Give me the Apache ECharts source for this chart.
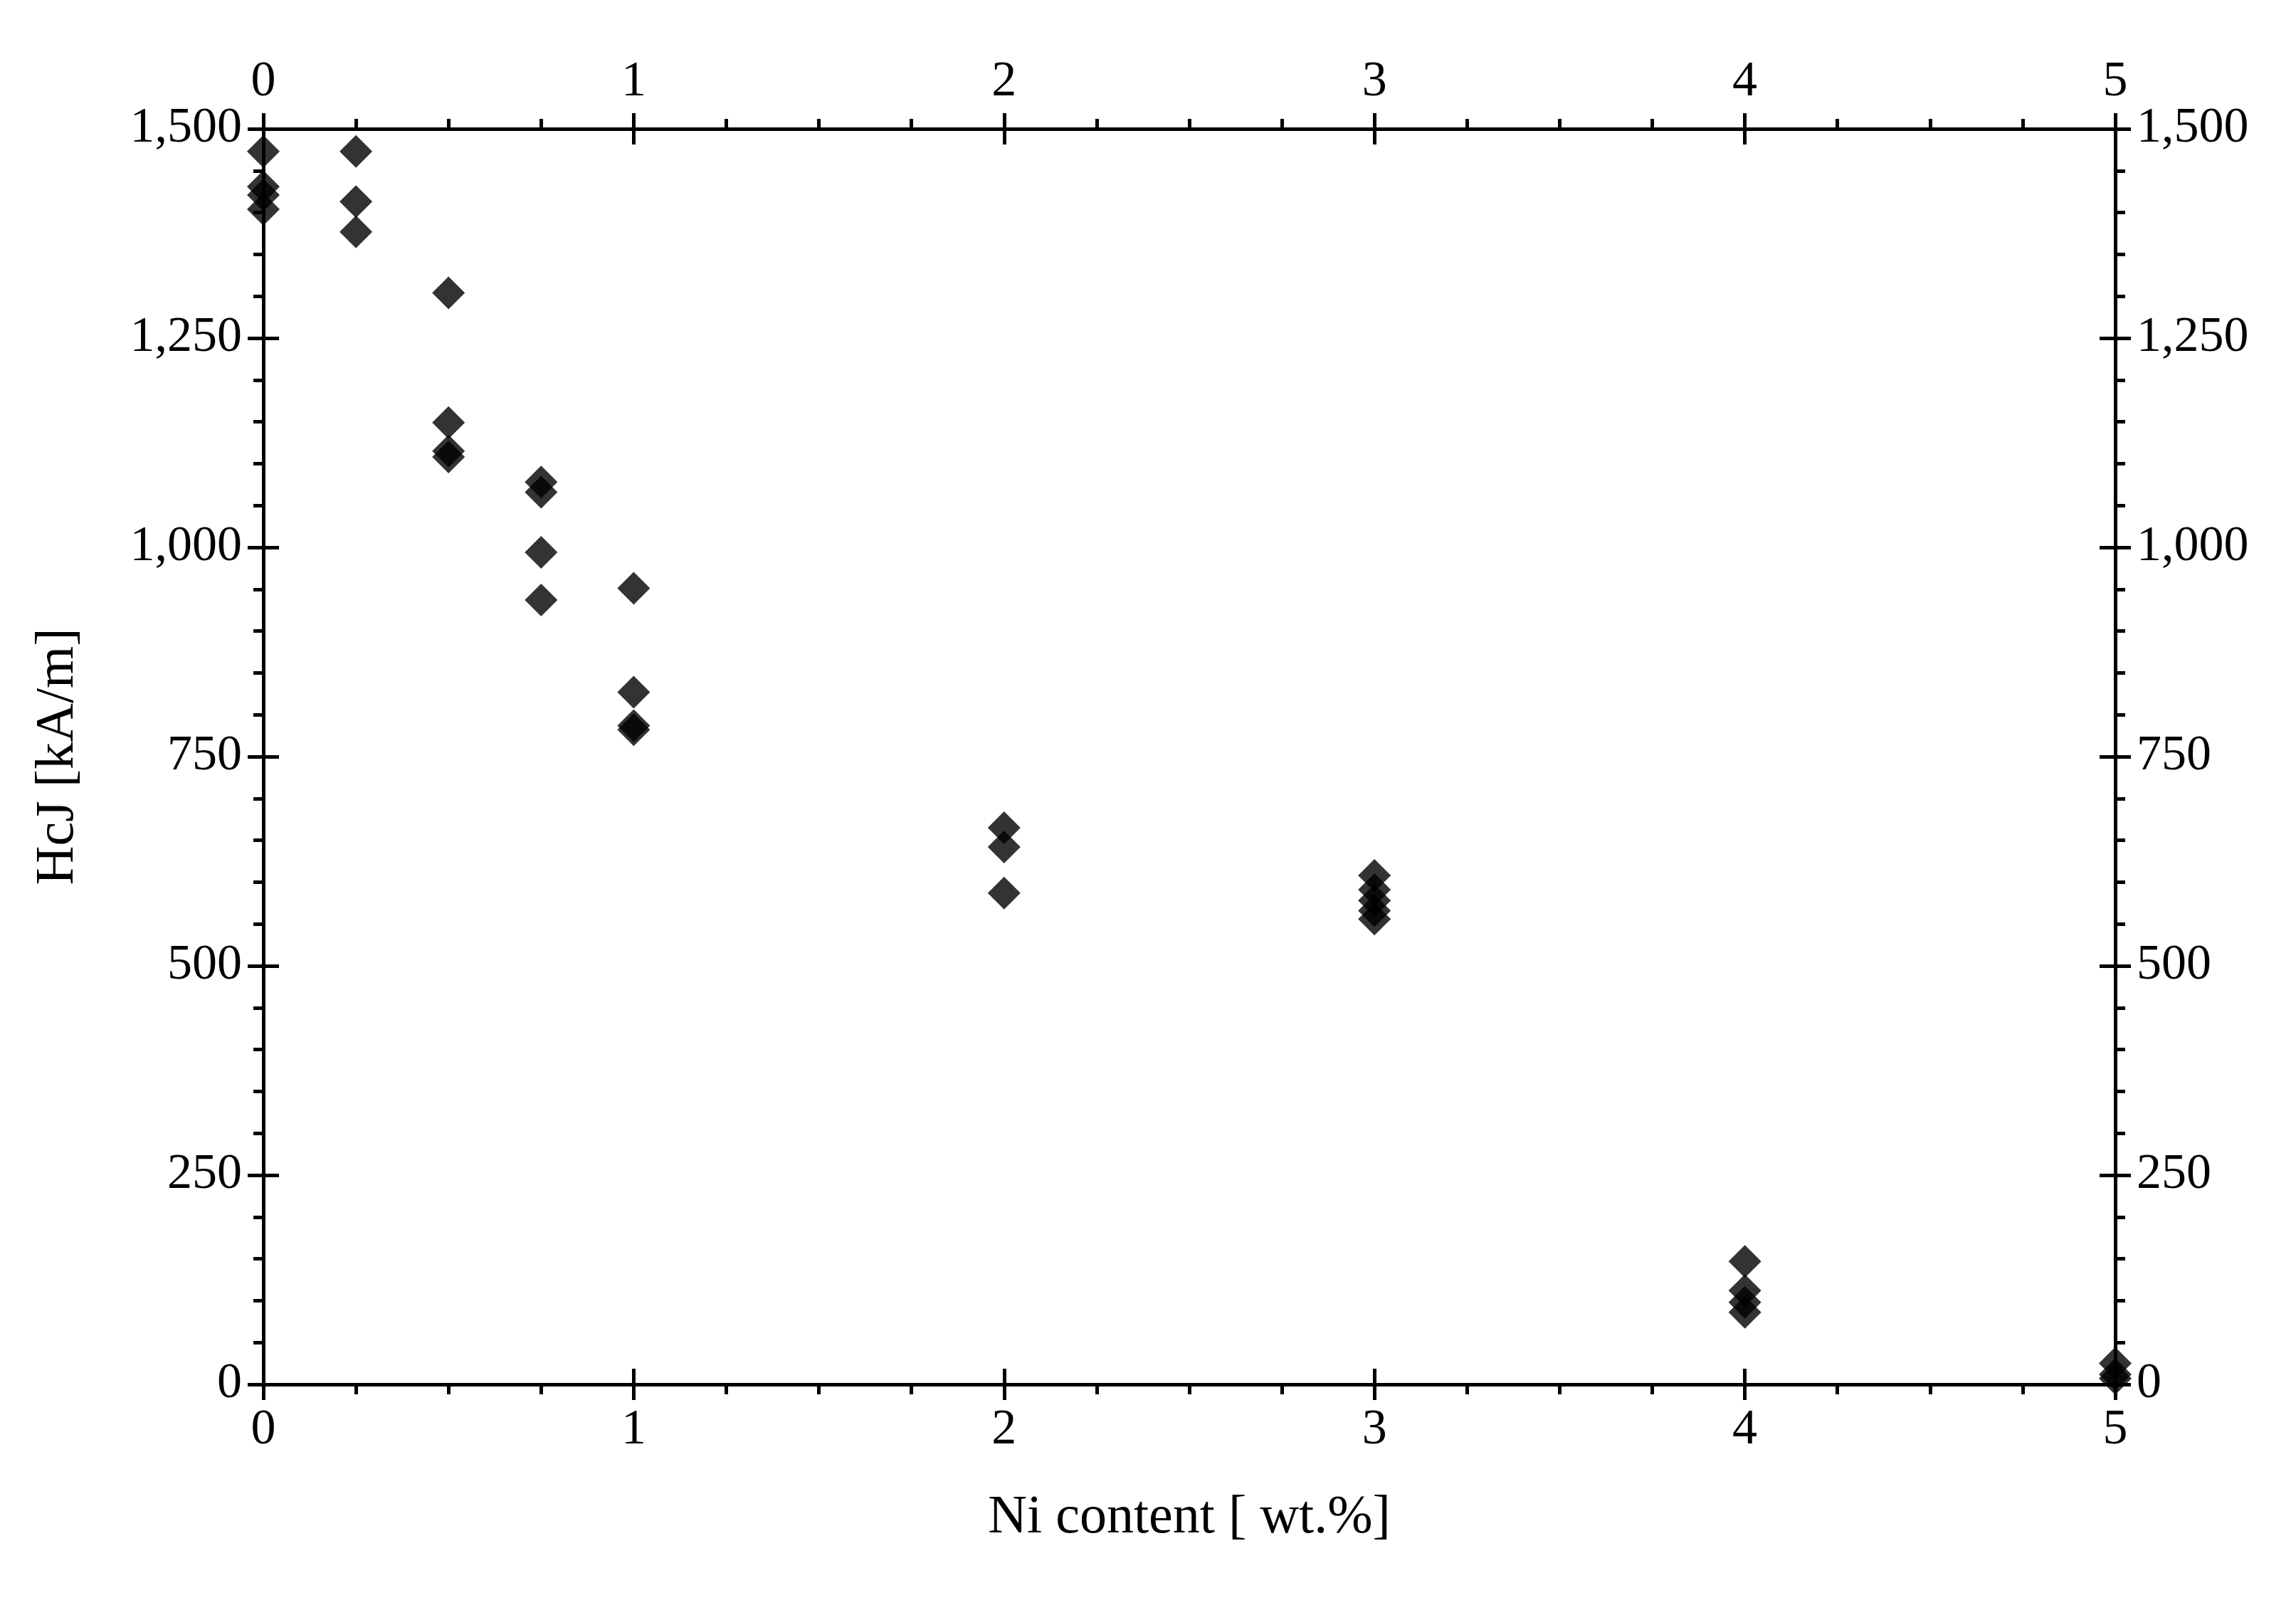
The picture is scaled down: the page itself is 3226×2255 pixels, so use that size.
<!DOCTYPE html>
<html lang="en">
<head>
    <meta charset="utf-8">
    <title>HcJ vs Ni</title>
    <script src="https://cdn.jsdelivr.net/npm/echarts@6/dist/echarts.min.js"></script>
    <style>
        html, body { margin: 0; padding: 0; background: #fff; }
        #container { width: 3226px; height: 2255px; }
    </style>
</head>
<body>
<div id="container"></div>
<script>
    const niContent = [0, 0, 0, 0, 0.25, 0.25, 0.25, 0.5, 0.5, 0.5, 0.5,
        0.75, 0.75, 0.75, 0.75, 1, 1, 1, 1, 2, 2, 2, 3, 3, 3, 3, 3, 4, 4, 4, 4, 5, 5, 5];
    const hcj = [1473, 1431, 1421, 1404, 1473, 1413, 1377, 1304, 1149, 1115, 1108,
        1078, 1066, 994, 937, 951, 827, 787, 782, 665, 642, 587, 608, 591, 578, 566, 556, 147, 112, 98, 86, 25, 12, 7];

    const font = "Liberation Serif";
    const lw = 5;
    const baseAxis = {
        type: "value",
        axisLine: { show: true, onZero: false, lineStyle: { color: "#000", width: lw } },
        splitLine: { show: false },
        axisTick: { show: true, length: 22, lineStyle: { color: "#000", width: lw } },
        minorTick: { show: true, length: 14, lineStyle: { color: "#000", width: lw } },
        axisLabel: { color: "#000", fontFamily: font, fontSize: 70, margin: 30 }
    };
    function xAxis(pos, inside, extra) {
        return Object.assign({}, baseAxis, {
            position: pos, min: 0, max: 5, interval: 1,
            axisTick: Object.assign({}, baseAxis.axisTick, { inside: inside }),
            minorTick: Object.assign({}, baseAxis.minorTick, { show: !inside, splitNumber: 4 }),
            axisLabel: Object.assign({}, baseAxis.axisLabel, { show: !inside })
        }, extra || {});
    }
    function yAxis(pos, inside, extra) {
        return Object.assign({}, baseAxis, {
            position: pos, min: 0, max: 1500, interval: 250,
            axisTick: Object.assign({}, baseAxis.axisTick, { inside: inside }),
            minorTick: Object.assign({}, baseAxis.minorTick, { show: !inside, splitNumber: 5 }),
            axisLabel: Object.assign({}, baseAxis.axisLabel, { show: !inside })
        }, extra || {});
    }

    const option = {
        animation: false,
        backgroundColor: "#fff",
        grid: { left: 370, right: 254, top: 181, bottom: 310 },
        xAxis: [
            xAxis("bottom", false, {
                name: "Ni content [ wt.%]", nameLocation: "middle", nameGap: 150,
                nameTextStyle: { color: "#000", fontFamily: font, fontSize: 76 }
            }),
            xAxis("top", false),
            xAxis("bottom", true),
            xAxis("top", true)
        ],
        yAxis: [
            yAxis("left", false, {
                name: "HcJ [kA/m]", nameLocation: "middle", nameGap: 250,
                nameTextStyle: { color: "#000", fontFamily: font, fontSize: 76 }
            }),
            yAxis("right", false),
            yAxis("left", true),
            yAxis("right", true)
        ],
        series: [{
            type: "scatter",
            symbol: "diamond",
            symbolSize: 46,
            itemStyle: { color: "#000" },
            data: niContent.map((x, i) => [x, hcj[i]])
        }]
    };

    const chart = echarts.init(document.getElementById("container"));
    chart.setOption(option);
</script>
</body>
</html>
